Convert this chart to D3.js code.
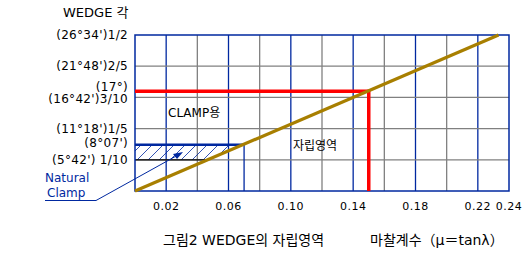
<!DOCTYPE html>
<html lang="ko">
<head>
<meta charset="UTF-8">
<title>WEDGE 자립영역</title>
<style>
  body { margin: 0; background: #fff; }
  text { font-family: "DejaVu Sans", "Noto Sans CJK KR", sans-serif; font-size: 11px; fill: #000; }
  .ylab { font-size: 12px; letter-spacing: 0.3px; }
</style>
</head>
<body>
<svg id="chart" width="525" height="257"></svg>
<script src="https://d3js.org/d3.v7.min.js"></script>
<script>
// data
const xGrid = [0.02, 0.04, 0.06, 0.08, 0.10, 0.12, 0.14, 0.16, 0.18, 0.20, 0.22];
const xLabels = [0.02, 0.06, 0.10, 0.14, 0.18, 0.22, 0.24];
const yGrid = [0.1, 0.2, 0.3, 0.4];
const yTicks = [0.1, 0.2, 0.3, 0.4, 0.5];
const yLabels = ["(5°42')  1/10", "(11°18')1/5", "(16°42')3/10", "(21°48')2/5", "(26°34')1/2"];
const lockLine = [[0, 0], [0.2333, 0.5]];          // 자립 한계선
const clampPt = { mu: 0.15, tan: 0.32, label: "(17°)" };
const naturalPt = { mu: 0.07, tan: 0.148, label: "(8°07')" };

const svg = d3.select("#chart");
const x = d3.scaleLinear().domain([0, 0.24]).range([135, 509]);
const y = d3.scaleLinear().domain([0, 0.5]).range([191, 35]);

const blue = "#0028a0", gray = "#808080", gold = "#a87f00";

// grid
svg.append("g").selectAll("line").data(xGrid).join("line")
    .attr("x1", d => x(d)).attr("x2", d => x(d))
    .attr("y1", y(0)).attr("y2", y(0.5))
    .attr("stroke", (d, i) => i % 2 === 0 ? blue : gray)
    .attr("stroke-width", 1.3);

svg.append("g").selectAll("line").data(yGrid).join("line")
    .attr("x1", x(0)).attr("x2", x(0.24))
    .attr("y1", d => y(d)).attr("y2", d => y(d))
    .attr("stroke", gray).attr("stroke-width", 1.3);

// hatched natural clamp region (between 1/10 and 8°07', left of the lock line)
const slope = lockLine[1][1] / lockLine[1][0];
const defs = svg.append("defs");
const pat = defs.append("pattern").attr("id", "hatch")
    .attr("patternUnits", "userSpaceOnUse").attr("width", 11).attr("height", 11);
pat.append("path").attr("d", "M0,11 L11,0 M-2,2 L2,-2 M9,13 L13,9")
    .attr("stroke", blue).attr("stroke-width", 0.8);
const hatchPoly = [
  [0, 0.1], [0.1 / slope, 0.1], [naturalPt.tan / slope, naturalPt.tan], [0, naturalPt.tan]
];
svg.append("path")
    .attr("d", d3.line().x(d => x(d[0])).y(d => y(d[1]))(hatchPoly) + "Z")
    .attr("fill", "url(#hatch)");

// black segment of 1/10 line inside region
svg.append("line")
    .attr("x1", x(0)).attr("x2", x(0.1 / slope))
    .attr("y1", y(0.1)).attr("y2", y(0.1))
    .attr("stroke", "#000").attr("stroke-width", 1.3);

// frame
svg.append("rect")
    .attr("x", x(0)).attr("y", y(0.5))
    .attr("width", x(0.24) - x(0)).attr("height", y(0) - y(0.5))
    .attr("fill", "none").attr("stroke", blue).attr("stroke-width", 1.5);

// natural clamp boundary
svg.append("line")
    .attr("x1", x(naturalPt.mu)).attr("x2", x(naturalPt.mu))
    .attr("y1", y(naturalPt.tan)).attr("y2", y(0))
    .attr("stroke", blue).attr("stroke-width", 1.3);
svg.append("line")
    .attr("x1", x(0)).attr("x2", x(naturalPt.mu))
    .attr("y1", y(naturalPt.tan)).attr("y2", y(naturalPt.tan))
    .attr("stroke", blue).attr("stroke-width", 2.5);

// clamp (red)
svg.append("path")
    .attr("d", `M${x(0)},${y(clampPt.tan)} H${x(clampPt.mu)} V${y(0)}`)
    .attr("fill", "none").attr("stroke", "#ff0000").attr("stroke-width", 3.5);

// lock line
svg.append("path")
    .attr("d", d3.line().x(d => x(d[0])).y(d => y(d[1]))(lockLine))
    .attr("stroke", gold).attr("stroke-width", 3.2).attr("fill", "none");

// y labels
svg.append("g").selectAll("text").data(yTicks).join("text")
    .attr("class", "ylab")
    .attr("x", 128).attr("y", d => y(d) + (d === 0.3 ? 6 : 4))
    .attr("text-anchor", "end")
    .text((d, i) => yLabels[i]);
svg.append("text").attr("class", "ylab").attr("x", 128).attr("y", y(clampPt.tan) - 0.5).attr("text-anchor", "end").text(clampPt.label);
svg.append("text").attr("class", "ylab").attr("x", 128).attr("y", y(naturalPt.tan) + 2).attr("text-anchor", "end").text(naturalPt.label);
svg.append("text").attr("x", 63).attr("y", 17).style("font-size", "13px").text("WEDGE 각");

// x labels
svg.append("g").selectAll("text").data(xLabels).join("text")
    .attr("x", d => x(d)).attr("y", 210)
    .attr("text-anchor", "middle")
    .style("letter-spacing", "0.5px")
    .text(d => d3.format(".2f")(d));

// region labels
svg.append("text").attr("x", 168).attr("y", 117).style("font-size", "12px").text("CLAMP용");
svg.append("text").attr("x", 293).attr("y", 150).style("font-size", "12px").text("자립영역");

// natural clamp leader
svg.append("text").attr("x", 45).attr("y", 182).style("fill", blue).style("font-size", "12px").text("Natural");
svg.append("text").attr("x", 47).attr("y", 197).style("fill", blue).style("font-size", "12px").text("Clamp");
svg.append("path")
    .attr("d", "M45,200.5 H96 L178,155")
    .attr("fill", "none").attr("stroke", blue).attr("stroke-width", 1);
svg.append("path")
    .attr("d", "M183,152 L173,154 L177,159 Z")
    .attr("fill", blue);

// captions
svg.append("text").attr("x", 163).attr("y", 245).style("font-size", "14px").text("그림2 WEDGE의 자립영역");
svg.append("text").attr("x", 370).attr("y", 245).style("font-size", "14px").text("마찰계수（μ＝tanλ）");
</script>
</body>
</html>
